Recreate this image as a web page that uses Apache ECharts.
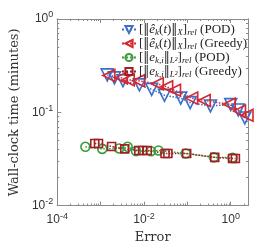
<!DOCTYPE html>
<html><head><meta charset="utf-8">
<script src="https://cdn.jsdelivr.net/npm/echarts@6/dist/echarts.min.js"></script>
<style>html,body{margin:0;padding:0;background:#fff}#c{width:274px;height:249px}</style>
</head><body><div id="c"></div>
<script>
// ---- data ----
const seriesNames = ['podX', 'greedyX', 'podL2', 'greedyL2'];
const podXErr  = [1.42e-3, 2.08e-3, 3.27e-3, 7.85e-3, 0.0150, 0.0297, 0.0703, 0.116, 0.340, 1.0, 1.49, 2.11];
const podXTime = [0.252, 0.234, 0.218, 0.197, 0.176, 0.152, 0.142, 0.127, 0.117, 0.121, 0.106, 0.087];
const grXErr   = [1.55e-3, 3.0e-3, 4.33e-3, 7.48e-3, 0.0202, 0.0333, 0.0505, 0.126, 0.244, 0.92, 1.59, 2.37];
const grXTime  = [0.248, 0.234, 0.223, 0.218, 0.202, 0.188, 0.172, 0.142, 0.134, 0.122, 0.103, 0.093];
const podL2Err  = [4.46e-4, 1.09e-3, 2.67e-3, 4.19e-3, 6.55e-3, 0.0145, 0.0216, 0.0916, 0.408, 1.10];
const podL2Time = [0.0427, 0.0405, 0.041, 0.0427, 0.0384, 0.0383, 0.039, 0.0362, 0.0329, 0.0326];
const grL2Err   = [7.33e-4, 8.93e-4, 1.79e-3, 3.6e-3, 7.6e-3, 9.28e-3, 0.0119, 0.0306, 0.0356, 0.0964, 0.428, 1.10, 1.28];
const grL2Time  = [0.0463, 0.0463, 0.043, 0.0405, 0.039, 0.039, 0.039, 0.0362, 0.0362, 0.0362, 0.0329, 0.032, 0.032];
const xMajorTicks = [1e-4, 1e-3, 1e-2, 1e-1, 1];
const xTickLabels = [1e-4, 1e-2, 1];
const yMajorTicks = [1e-2, 1e-1, 1];
const yTickLabels = [1e-2, 1e-1, 1];
const xRange = [1e-4, 2.5];
const yRange = [1e-2, 1];

function minorTicks(lo, hi) {
  const out = [];
  for (let e = Math.floor(Math.log10(lo)); e <= Math.ceil(Math.log10(hi)); e++) {
    for (let m = 2; m <= 9; m++) {
      const v = m * Math.pow(10, e);
      if (v > lo && v < hi) out.push(Number(v.toPrecision(3)));
    }
  }
  return out;
}
function zip(a, b) { return a.map((v, i) => [v, b[i]]); }

const axisCol = '#8a8a8a';
const labelFmt = v => '{b|10}{s|' + Math.round(Math.log10(v)) + '}';
const labelRich = {
  b: { fontSize: 12, fontFamily: 'Liberation Sans', color: '#333', lineHeight: 17 },
  s: { fontSize: 9, fontFamily: 'Liberation Sans', color: '#333', verticalAlign: 'top' }
};

function mkX(pos, ticks, len, labels, extra) {
  return Object.assign({
    type: 'log', logBase: 10, min: xRange[0], max: xRange[1], position: pos,
    gridIndex: 0,
    axisLine: { show: true, lineStyle: { color: axisCol, width: 1 } },
    axisTick: { show: true, inside: true, length: len, customValues: ticks, lineStyle: { color: axisCol } },
    axisLabel: labels ? { show: true, customValues: labels, formatter: labelFmt, rich: labelRich, margin: 6 } : { show: false },
    splitLine: { show: false }, minorTick: { show: false }
  }, extra || {});
}
function mkY(pos, ticks, len, labels, extra) {
  return Object.assign({
    type: 'log', logBase: 10, min: yRange[0], max: yRange[1], position: pos,
    gridIndex: 0,
    axisLine: { show: true, lineStyle: { color: axisCol, width: 1 } },
    axisTick: { show: true, inside: true, length: len, customValues: ticks, lineStyle: { color: axisCol } },
    axisLabel: labels ? { show: true, customValues: labels, formatter: labelFmt, rich: labelRich, margin: 4 } : { show: false },
    splitLine: { show: false }, minorTick: { show: false }
  }, extra || {});
}

const serifName = { fontFamily: 'DejaVu Serif', fontSize: 13, color: '#333' };

const legendRich = {
  t: { fontFamily: 'Liberation Serif', fontSize: 13, color: '#222', lineHeight: 15 },
  n: { fontFamily: 'DejaVu Serif', fontSize: 12, color: '#222', lineHeight: 15 },
  i: { fontFamily: 'Liberation Serif', fontSize: 13, fontStyle: 'italic', color: '#222', lineHeight: 15 },
  sub: { fontFamily: 'Liberation Serif', fontSize: 9, fontStyle: 'italic', color: '#222', verticalAlign: 'bottom' }
};
const legendText = {
  podX: '{t|[}{n|‖}{i|ê}{sub|k}{t|(}{i|t}{t|)}{n|‖}{sub|X}{t|]}{sub|rel}{t| (POD)}',
  greedyX: '{t|[}{n|‖}{i|ê}{sub|k}{t|(}{i|t}{t|)}{n|‖}{sub|X}{t|]}{sub|rel}{t| (Greedy)}',
  podL2: '{t|[}{n|‖}{i|e}{sub|k,i}{n|‖}{sub|L²}{t|]}{sub|rel}{t| (POD)}',
  greedyL2: '{t|[}{n|‖}{i|e}{sub|k,i}{n|‖}{sub|L²}{t|]}{sub|rel}{t| (Greedy)}'
};

const colors = { podX: '#3b6fc8', greedyX: '#d8262e', podL2: '#3c9c3c', greedyL2: '#9e1f25' };

function mkSeries(name, data, symbol, rot, size) {
  return {
    name, type: 'line', data, xAxisIndex: 0, yAxisIndex: 0,
    symbol, symbolSize: size, symbolRotate: rot, showSymbol: true,
    lineStyle: { color: colors[name], width: 1.5, type: 'dotted' },
    itemStyle: { color: 'rgba(255,255,255,0)', borderColor: colors[name], borderWidth: 1.6 },
    emphasis: { disabled: true }, animation: false, z: 3
  };
}

const chart = echarts.init(document.getElementById('c'), null, { renderer: 'canvas' });
chart.setOption({
  animation: false,
  grid: { left: 45, right: 26, top: 19, bottom: 42, containLabel: false },
  xAxis: [
    mkX('bottom', xMajorTicks, 4, xTickLabels, { name: 'Error', nameLocation: 'middle', nameGap: 25, nameTextStyle: serifName }),
    mkX('bottom', minorTicks(xRange[0], xRange[1]), 2, null),
    mkX('top', xMajorTicks, 4, null),
    mkX('top', minorTicks(xRange[0], xRange[1]), 2, null)
  ],
  yAxis: [
    mkY('left', yMajorTicks, 4, yTickLabels, { name: 'Wall-clock time (minutes)', nameLocation: 'middle', nameGap: 29, nameTextStyle: serifName }),
    mkY('left', minorTicks(yRange[0], yRange[1]), 2, null),
    mkY('right', yMajorTicks, 4, null),
    mkY('right', minorTicks(yRange[0], yRange[1]), 2, null)
  ],
  legend: {
    orient: 'vertical', left: 121, top: 23, itemGap: 0, itemWidth: 14, itemHeight: 9,
    padding: 0, selectedMode: false,
    data: seriesNames,
    formatter: n => legendText[n],
    textStyle: { rich: legendRich, padding: [0, 0, 0, -2] }
  },
  series: [
    mkSeries('podX', zip(podXErr, podXTime), 'triangle', 180, 12),
    mkSeries('greedyX', zip(grXErr, grXTime), 'triangle', 90, 12),
    mkSeries('podL2', zip(podL2Err, podL2Time), 'circle', 0, 9),
    mkSeries('greedyL2', zip(grL2Err, grL2Time), 'rect', 0, 8)
  ]
});
</script></body></html>
